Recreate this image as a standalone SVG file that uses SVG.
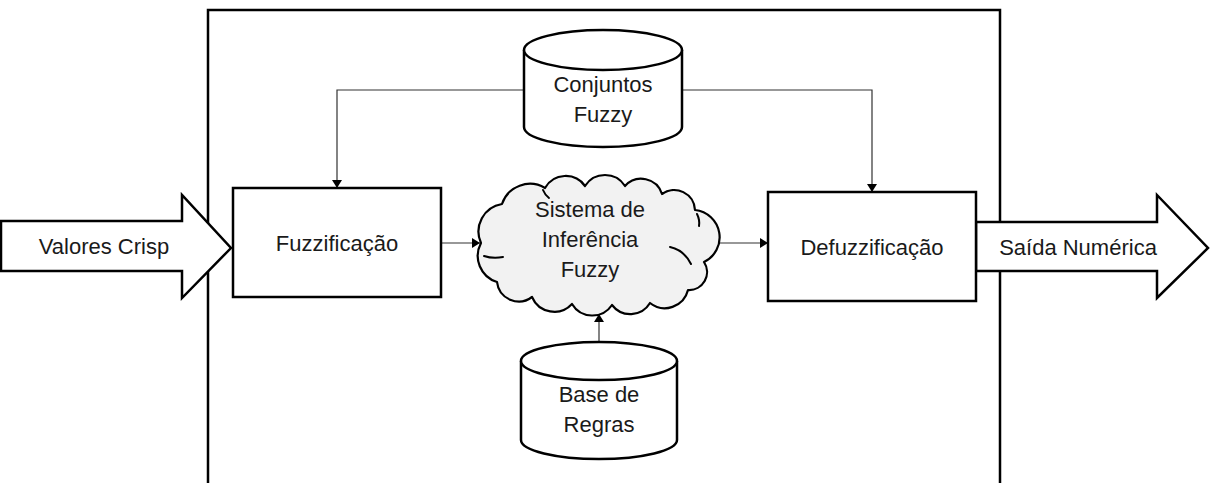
<svg xmlns="http://www.w3.org/2000/svg" width="1210" height="483" viewBox="0 0 1210 483">
<style>
.shape{fill:#ffffff;stroke:#000000;stroke-width:2.5;stroke-linejoin:miter}
.cloud{fill:#f2f2f2;stroke:#000000;stroke-width:2.2;stroke-linejoin:round}
.crease{fill:none;stroke:#000000;stroke-width:2;stroke-linecap:round}
.conn{fill:none;stroke:#333333;stroke-width:1.2}
.lbl{font-family:"Liberation Sans",Arial,sans-serif;font-size:22px;fill:#1a1a1a;text-anchor:middle}
</style>
<defs>
<marker id="ah" viewBox="0 0 8 10" refX="8" refY="5" markerWidth="8" markerHeight="10" markerUnits="userSpaceOnUse" orient="auto">
<path d="M0,0 L8,5 L0,10 z" fill="#000000"/>
</marker>
</defs>
<rect width="1210" height="483" fill="#ffffff"/>
<g id="frame">
<path d="M208,490 V10 H1000 V490" fill="none" stroke="#000000" stroke-width="2.5"/>
</g>
<g id="connectors">
<path class="conn" d="M524,90 H337 V188" marker-end="url(#ah)"/>
<path class="conn" d="M682,90 H872 V192" marker-end="url(#ah)"/>
<path class="conn" d="M441,243 H480" marker-end="url(#ah)"/>
<path class="conn" d="M719,243 H768" marker-end="url(#ah)"/>
<path class="conn" d="M599,342 V314" marker-end="url(#ah)"/>
</g>
<g id="input-arrow">
<path class="shape" d="M1,221 H182 V195 L231,248 L182,298 V271 H1 Z"/>
<text class="lbl" x="104" y="254">Valores Crisp</text>
</g>
<g id="output-arrow">
<path class="shape" d="M976,222 H1157 V195 L1208,248 L1157,298 V271 H976 Z"/>
<text class="lbl" x="1078" y="255">Saída Numérica</text>
</g>
<g id="fuzzificacao">
<rect class="shape" x="233" y="188" width="208" height="109"/>
<text class="lbl" x="337" y="251">Fuzzificação</text>
</g>
<g id="defuzzificacao">
<rect class="shape" x="768" y="192" width="208" height="109"/>
<text class="lbl" x="872" y="255">Defuzzificação</text>
</g>
<g id="conjuntos-fuzzy">
<path class="shape" d="M524,50 V127 A79,20 0 0 0 682,127 V50"/>
<ellipse class="shape" cx="603" cy="50" rx="79" ry="20"/>
<text class="lbl" x="603" y="92">Conjuntos</text>
<text class="lbl" x="603" y="122">Fuzzy</text>
</g>
<g id="base-de-regras">
<path class="shape" d="M521,361 V440 A78,19 0 0 0 677,440 V361"/>
<ellipse class="shape" cx="599" cy="361" rx="78" ry="19"/>
<text class="lbl" x="599" y="402">Base de</text>
<text class="lbl" x="599" y="432">Regras</text>
</g>
<g id="sistema-inferencia">
<path class="cloud" d="M481,243 A27.9,27.9 0 0 1 502,204 A29.4,29.4 0 0 1 545,188 A23.7,23.7 0 0 1 585,186 A23.7,23.7 0 0 1 625,186 A21.8,21.8 0 0 1 662,194 A20.8,20.8 0 0 1 695,210 A27.4,27.4 0 0 1 704,262 A18,18 0 0 1 688,290 A23.9,23.9 0 0 1 650,303 A23,23 0 0 1 612,305 A23.7,23.7 0 0 1 572,304 A24.2,24.2 0 0 1 532,297 A21.9,21.9 0 0 1 497,282 A27.3,27.3 0 0 1 481,243 Z"/>
<path class="crease" d="M484,256 Q493,259 503,257"/>
<path class="crease" d="M543,190 Q545,195 549,198"/>
<path class="crease" d="M670,247 Q684,250 691,264"/>
<path class="crease" d="M697,214 Q700,220 699,226"/>
<text class="lbl" x="590" y="217">Sistema de</text>
<text class="lbl" x="590" y="247">Inferência</text>
<text class="lbl" x="590" y="277">Fuzzy</text>
</g>
</svg>
